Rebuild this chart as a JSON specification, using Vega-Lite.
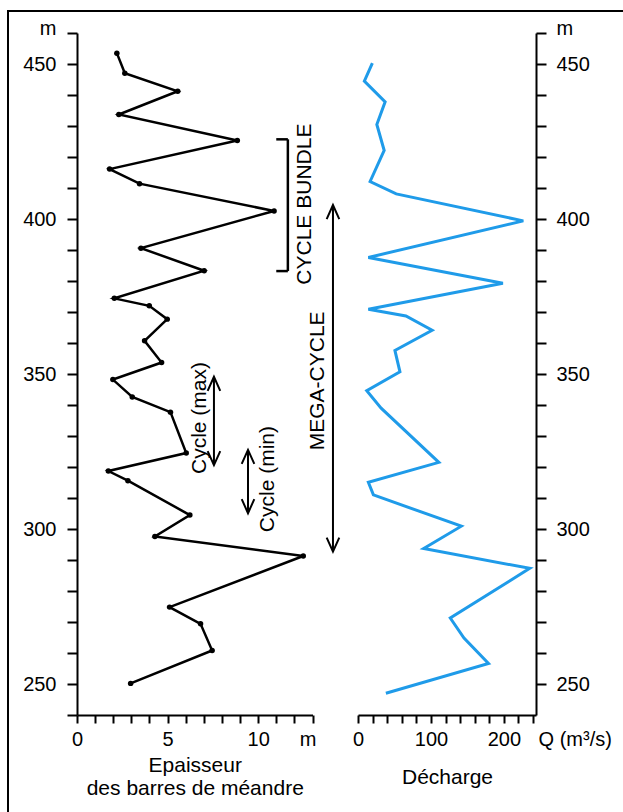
{
  "$schema": "https://vega.github.io/schema/vega-lite/v6.json",
  "autosize": {"type": "none"},
  "padding": {"left": 8, "top": 11, "right": 0, "bottom": 0},
  "width": 616,
  "height": 802,
  "background": "white",
  "config": {
    "view": {"stroke": "black", "strokeWidth": 2},
    "axis": {
      "domainColor": "black", "domainWidth": 2, "tickColor": "black", "tickWidth": 2,
      "labelColor": "black", "labelFont": "Liberation Sans", "labelFontSize": 20,
      "titleFont": "Liberation Sans", "titleFontSize": 21, "titleFontWeight": "normal",
      "titleColor": "black", "grid": false, "labelOverlap": false, "labelFlush": false
    }
  },
  "datasets": {
    "left": [
      {"x": 2.20, "y": 453.5}, {"x": 2.64, "y": 447.0}, {"x": 5.56, "y": 441.2}, {"x": 2.31, "y": 433.7},
      {"x": 8.85, "y": 425.3}, {"x": 1.80, "y": 416.1}, {"x": 3.45, "y": 411.4}, {"x": 10.88, "y": 402.6},
      {"x": 3.53, "y": 390.6}, {"x": 7.02, "y": 383.3}, {"x": 2.06, "y": 374.4}, {"x": 3.99, "y": 372.0},
      {"x": 4.98, "y": 367.7}, {"x": 3.73, "y": 360.7}, {"x": 4.67, "y": 353.7}, {"x": 1.98, "y": 348.2},
      {"x": 3.05, "y": 342.6}, {"x": 5.16, "y": 337.7}, {"x": 6.03, "y": 324.5}, {"x": 1.73, "y": 318.7},
      {"x": 2.81, "y": 315.6}, {"x": 6.23, "y": 304.5}, {"x": 4.30, "y": 297.6}, {"x": 12.49, "y": 291.3},
      {"x": 5.11, "y": 274.8}, {"x": 6.82, "y": 269.4}, {"x": 7.46, "y": 260.8}, {"x": 2.96, "y": 250.2}
    ],
    "right": [
      {"q": 19.7, "y": 450.3}, {"q": 8.7, "y": 444.5}, {"q": 37.2, "y": 437.8}, {"q": 25.8, "y": 430.5},
      {"q": 35.9, "y": 422.1}, {"q": 16.6, "y": 412.1}, {"q": 52.4, "y": 408.1}, {"q": 226.6, "y": 399.4},
      {"q": 14.2, "y": 387.6}, {"q": 198.6, "y": 379.3}, {"q": 14.2, "y": 370.9}, {"q": 65.7, "y": 368.7},
      {"q": 101.6, "y": 364.1}, {"q": 50.6, "y": 357.6}, {"q": 57.5, "y": 350.7}, {"q": 12.0, "y": 344.6},
      {"q": 31.7, "y": 339.0}, {"q": 110.8, "y": 321.5}, {"q": 14.2, "y": 315.1}, {"q": 21.1, "y": 311.0},
      {"q": 141.6, "y": 300.9}, {"q": 90.1, "y": 293.7}, {"q": 235.4, "y": 287.3}, {"q": 126.5, "y": 271.3},
      {"q": 145.3, "y": 264.8}, {"q": 178.9, "y": 256.6}, {"q": 38.2, "y": 247.0}
    ],
    "bracket": [
      {"x": 11.64, "x2": 11.64, "y": 383.2, "y2": 425.7},
      {"x": 11.0, "x2": 11.64, "y": 425.7, "y2": 425.7},
      {"x": 11.0, "x2": 11.64, "y": 383.2, "y2": 383.2}
    ],
    "arrowEnds": [
      {"arrow": "mega", "end": "top", "x": 14.13, "y": 404.5},
      {"arrow": "mega", "end": "bottom", "x": 14.13, "y": 292.7},
      {"arrow": "max", "end": "top", "x": 7.56, "y": 349.1},
      {"arrow": "max", "end": "bottom", "x": 7.56, "y": 320.6},
      {"arrow": "min", "end": "top", "x": 9.44, "y": 325.5},
      {"arrow": "min", "end": "bottom", "x": 9.44, "y": 305.1}
    ],
    "labels": [
      {"label": "CYCLE BUNDLE", "x": 12.57, "y": 404.8},
      {"label": "MEGA-CYCLE", "x": 13.30, "y": 347.8},
      {"label": "Cycle (max)", "x": 6.77, "y": 335.8},
      {"label": "Cycle (min)", "x": 10.54, "y": 316.1}
    ]
  },
  "layer": [
    {
      "encoding": {
        "x": {
          "field": "x", "type": "quantitative",
          "scale": {"domain": [0, 13], "range": [69, 304.5], "nice": false, "zero": false},
          "axis": {
            "orient": "bottom", "offset": -98,
            "values": [0, 1, 2, 3, 4, 5, 6, 7, 8, 9, 10, 11, 12, 13],
            "labelExpr": "datum.value == 13 ? 'm' : (datum.value % 5 == 0 ? datum.label : '')",
            "tickSize": 8, "labelPadding": 6,
            "labelOffset": {"condition": {"test": "datum.value == 13", "value": -5}, "value": 0},
            "title": ["Epaisseur", "des barres de méandre"],
            "titlePadding": 5, "titleLineHeight": 23
          }
        },
        "y": {
          "field": "y", "type": "quantitative",
          "scale": {"domain": [240, 460], "range": [704, 22], "nice": false, "zero": false},
          "axis": {
            "orient": "left", "offset": -69,
            "values": [240, 250, 260, 270, 280, 290, 300, 310, 320, 330, 340, 350, 360, 370, 380, 390, 400, 410, 420, 430, 440, 450, 460],
            "labelExpr": "datum.value == 460 ? 'm' : (datum.value % 50 == 0 ? datum.label : '')",
            "tickSize": 10, "labelPadding": 11,
            "labelOffset": {"condition": {"test": "datum.value == 460", "value": -5}, "value": 0},
            "title": null
          }
        }
      },
      "layer": [
        {
          "data": {"name": "left"},
          "mark": {"type": "line", "color": "black", "strokeWidth": 2.5},
          "encoding": {"order": {"field": "y", "type": "quantitative"}}
        },
        {
          "data": {"name": "left"},
          "mark": {"type": "point", "filled": true, "color": "black", "size": 30, "opacity": 1}
        },
        {
          "data": {"name": "bracket"},
          "mark": {"type": "rule", "color": "black", "strokeWidth": 2.5},
          "encoding": {"x2": {"field": "x2"}, "y2": {"field": "y2"}}
        },
        {
          "data": {"name": "arrowEnds"},
          "mark": {"type": "line", "color": "black", "strokeWidth": 2},
          "encoding": {"detail": {"field": "arrow"}, "order": {"field": "y", "type": "quantitative"}}
        },
        {
          "data": {"name": "arrowEnds"},
          "transform": [{"filter": "datum.end == 'top'"}],
          "mark": {"type": "point", "shape": "M -0.9 2 L 0 0 L 0.9 2", "filled": false, "color": "black", "strokeWidth": 2, "size": 196, "opacity": 1}
        },
        {
          "data": {"name": "arrowEnds"},
          "transform": [{"filter": "datum.end == 'bottom'"}],
          "mark": {"type": "point", "shape": "M -0.9 -2 L 0 0 L 0.9 -2", "filled": false, "color": "black", "strokeWidth": 2, "size": 196, "opacity": 1}
        },
        {
          "data": {"name": "labels"},
          "mark": {"type": "text", "angle": 270, "font": "Liberation Sans", "fontSize": 21, "color": "black", "align": "center", "baseline": "middle"},
          "encoding": {"text": {"field": "label"}}
        }
      ]
    },
    {
      "data": {"name": "right"},
      "mark": {"type": "line", "color": "#1f9be9", "strokeWidth": 3},
      "encoding": {
        "x": {
          "field": "q", "type": "quantitative",
          "scale": {"domain": [0, 244], "range": [350, 528], "nice": false, "zero": false},
          "axis": {
            "orient": "bottom", "offset": -98,
            "values": [0, 20, 40, 60, 80, 100, 120, 140, 160, 180, 200, 220, 240],
            "labelExpr": "datum.value == 240 ? 'Q (m³/s)' : (datum.value % 100 == 0 ? datum.label : '')",
            "labelAlign": {"condition": {"test": "datum.value == 240", "value": "left"}, "value": "center"},
            "labelOffset": {"condition": {"test": "datum.value == 240", "value": 5}, "value": 0},
            "tickSize": 8, "labelPadding": 6,
            "title": "Décharge", "titlePadding": 17
          }
        },
        "y": {
          "field": "y", "type": "quantitative",
          "scale": {"domain": [240, 460], "range": [704, 22], "nice": false, "zero": false},
          "axis": {
            "orient": "right", "offset": -88,
            "values": [250, 260, 270, 280, 290, 300, 310, 320, 330, 340, 350, 360, 370, 380, 390, 400, 410, 420, 430, 440, 450, 460],
            "labelExpr": "datum.value == 460 ? 'm' : (datum.value % 50 == 0 ? datum.label : '')",
            "tickSize": 10, "labelPadding": 10,
            "labelOffset": {"condition": {"test": "datum.value == 460", "value": -5}, "value": 0},
            "title": null
          }
        },
        "order": {"field": "y", "type": "quantitative"}
      }
    }
  ],
  "resolve": {"scale": {"x": "independent", "y": "independent"}}
}
